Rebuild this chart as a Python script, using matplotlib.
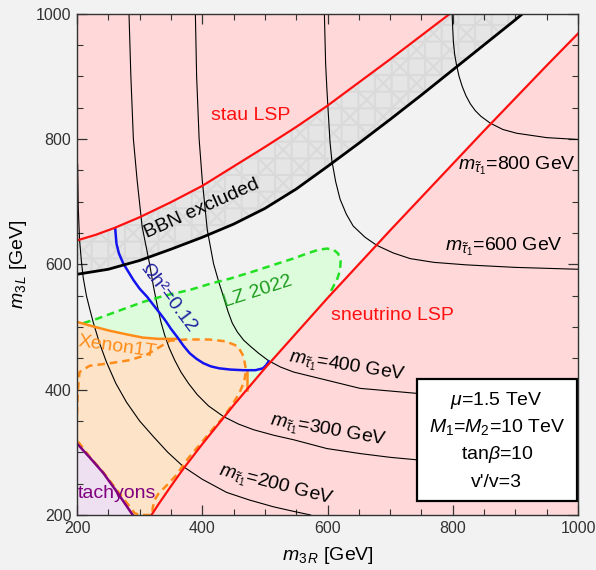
import numpy as np
import matplotlib
matplotlib.use("Agg")
import matplotlib.pyplot as plt
from matplotlib.patches import Rectangle

# =========================
# DATA (x = m3R, y = m3L in GeV)
# =========================
# sneutrino LSP boundary (red, right)
sneu_x = [319, 330, 350, 370, 400, 450, 500, 550, 600, 650, 700, 750, 800, 850, 900, 950, 1000]
sneu_y = [200, 217, 246, 274, 313, 375, 434, 490, 546, 600, 654, 707, 760, 813, 865, 917, 968]

# stau LSP boundary (red, top)
stau_x = [200, 230, 260, 300, 350, 400, 450, 500, 550, 600, 650, 700, 750, 796]
stau_y = [638, 647, 658, 675, 699, 725, 756, 787, 819, 853, 890, 927, 965, 1000]

# BBN excluded lower edge (black)
bbn_x = [200, 250, 300, 350, 400, 450, 500, 550, 600, 650, 700, 750, 800, 850, 900, 912]
bbn_y = [584, 592, 606, 624, 643, 664, 689, 720, 756, 793, 831, 870, 910, 950, 990, 1000]

# relic density Omega h^2 = 0.12 (blue)
relic_x = [261, 263, 267, 274, 282, 290, 300, 312, 322, 333, 342, 350, 360, 370, 380, 391,
           402, 414, 427, 445, 465, 485, 497, 502, 506]
relic_y = [657, 633, 617, 601, 588, 575, 561, 548, 535, 521, 509, 497, 484, 470, 458, 449,
           442, 437, 434, 432, 431, 431, 434, 439, 445]

# LZ 2022 (green dashed)
lz_x = [210, 232, 270, 306, 340, 380, 413, 444, 480, 520, 545, 567, 585, 599, 610, 617, 621,
        620, 615, 609, 602]
lz_y = [506, 513, 527, 540, 550, 559, 569, 577, 588, 601, 609, 617, 623, 625, 623, 617, 605,
        590, 575, 564, 550]

# Xenon1T solid edge + dashed contour (orange)
xen_x = [200, 225, 252, 280, 305, 330, 358]
xen_y = [508, 501, 494, 488, 483, 481, 481]
xen_edge_x = [471, 471]
xen_edge_y = [431, 400]
xend_x = [200, 201, 202, 204, 220, 252, 284, 310, 332, 348, 374, 411, 438, 457, 466, 470, 467,
          459, 446, 433, 420, 400, 378, 358, 345, 338, 330, 324, 321, 320, 300, 292, 286, 265,
          242, 221, 201]
xend_y = [360, 390, 405, 428, 438, 442, 447, 455, 468, 478, 480, 480, 477, 469, 453, 431, 413,
          394, 373, 355, 341, 317, 291, 263, 249, 242, 234, 224, 212, 200, 200, 203, 211, 238,
          268, 292, 318]

# tachyon boundary (purple)
tach_x = [200, 221, 242, 265, 289]
tach_y = [314, 291, 267, 235, 200]

# stau mass contours
m200_x = [201, 202, 204, 207, 210, 215, 220, 226, 236, 247, 262, 279, 300, 322, 345, 370, 400,
          439, 475, 514, 545, 573]
m200_y = [760, 690, 640, 605, 578, 550, 530, 507, 474, 444, 410, 380, 350, 325, 300, 277, 257,
          236, 224, 213, 206, 200]
m300_x = [283, 286, 290, 296, 304, 310, 316, 322, 328, 334, 340, 347, 356, 366, 378, 392, 410,
          434, 458, 482, 515, 546, 599, 652, 700, 743, 800, 900, 1000]
m300_y = [1000, 900, 800, 734, 660, 630, 600, 565, 535, 508, 487, 467, 447, 428, 410, 392, 374,
          357, 345, 336, 327, 320, 306, 298, 292, 288, 286, 284, 283]
m400_x = [389, 391, 395, 400, 408, 418, 426, 434, 441, 448, 456, 466, 477, 490, 506, 525, 546,
          599, 652, 743, 800, 900, 1000]
m400_y = [1000, 900, 800, 734, 655, 601, 573, 548, 525, 506, 492, 479, 469, 458, 446, 436, 428,
          415, 402, 394, 391, 389, 388]
m600_x = [595, 596, 597, 599, 601, 604, 607, 613, 620, 630, 641, 660, 679, 705, 732, 770, 822,
          900, 1000]
m600_y = [1000, 960, 920, 880, 845, 795, 765, 732, 704, 680, 661, 643, 630, 618, 609, 603, 599,
          595, 592]
m800_x = [799, 800, 801, 803, 806, 810, 815, 821, 828, 836, 845, 860, 880, 902, 950, 1000]
m800_y = [1000, 975, 955, 935, 918, 900, 884, 869, 856, 845, 836, 825, 815, 809, 802, 799]

mass_labels = ["200", "300", "400", "600", "800"]
box_lines = [r"$\mu$=1.5 TeV", r"$M_1$=$M_2$=10 TeV", r"tan$\beta$=10", "v'/v=3"]
ticks = [200, 400, 600, 800, 1000]

# =========================
# STYLE
# =========================
BG = "#f2f2f2"
PINK = "#ffd9d9"
RED = "#ff1010"
ORANGE = "#ff8c1a"

plt.rcParams["font.family"] = ["Liberation Sans", "DejaVu Sans"]
plt.rcParams["mathtext.fontset"] = "custom"
plt.rcParams["mathtext.rm"] = "Liberation Sans"
plt.rcParams["mathtext.it"] = "Liberation Sans:italic"
plt.rcParams["mathtext.bf"] = "Liberation Sans:bold"
plt.rcParams["hatch.linewidth"] = 1.5

fig = plt.figure(figsize=(5.96, 5.70), dpi=100, facecolor=BG)
ax = fig.add_axes([0.1292, 0.0965, 0.8406, 0.8798], facecolor=BG)

# ---- filled regions ----
# LZ 2022 sensitivity region
ax.fill(lz_x + [lz_x[-1], 200, 200], lz_y + [200, 200, lz_y[0]], color="#dcfcdc", lw=0, zorder=1)

# Xenon1T region: solid edge, then top of dashed contour, down to the sneutrino line
top_idx = list(range(10, 16))
xfill_x = xen_x + [xend_x[i] for i in top_idx] + xen_edge_x + [xen_edge_x[-1], 200]
xfill_y = xen_y + [xend_y[i] for i in top_idx] + xen_edge_y + [200, 200]
ax.fill(xfill_x, xfill_y, color="#fde4c8", lw=0, zorder=1.1)

# tachyons
ax.fill(tach_x + [200], tach_y + [200], color="#eee0f0", lw=0, zorder=1.2)

# sneutrino LSP & stau LSP
ax.fill(sneu_x + [1000], sneu_y + [200], color=PINK, lw=0, zorder=1.3)
ax.fill(stau_x + [200], stau_y + [1000], color=PINK, lw=0, zorder=1.3)

# BBN excluded band (hatched)
ax.fill(stau_x + bbn_x[::-1], stau_y + bbn_y[::-1], facecolor="#e5e5e5",
        edgecolor="#dadada", hatch="x+", lw=0, zorder=1.4)

# ---- stau mass contours ----
for mx, my in [(m200_x, m200_y), (m300_x, m300_y), (m400_x, m400_y),
               (m600_x, m600_y), (m800_x, m800_y)]:
    ax.plot(mx, my, color="black", lw=0.8, zorder=2)

# ---- boundaries ----
dash = (0, (3, 2))
ax.plot(xend_x, xend_y, color=ORANGE, lw=1.8, ls=dash, zorder=3)
ax.plot(lz_x, lz_y, color="#22e022", lw=1.8, ls=dash, zorder=3)
ax.plot(xen_x, xen_y, color=ORANGE, lw=1.8, zorder=3)
ax.plot(xen_edge_x, xen_edge_y, color=ORANGE, lw=1.8, zorder=3)
ax.plot(tach_x, tach_y, color="#800080", lw=1.8, zorder=3.5)
ax.plot(relic_x, relic_y, color="#1414f0", lw=1.8, zorder=4)
ax.plot(bbn_x, bbn_y, color="black", lw=2.0, zorder=4)
ax.plot(sneu_x, sneu_y, color=RED, lw=1.6, zorder=4.5)
ax.plot(stau_x, stau_y, color=RED, lw=1.6, zorder=4.5)

# ---- labels ----
fs = 14
ax.text(478, 837, "stau LSP", color=RED, fontsize=fs, ha="center", va="center", zorder=5)
ax.text(704, 518, "sneutrino LSP", color=RED, fontsize=fs, ha="center", va="center", zorder=5)
ax.text(399, 689, "BBN excluded", color="black", fontsize=fs, rotation=24,
        ha="center", va="center", rotation_mode="anchor", zorder=5)
ax.text(488, 556, "LZ 2022", color="#1c9c1c", fontsize=fs, rotation=18,
        ha="center", va="center", rotation_mode="anchor", zorder=5)
ax.text(265, 468, "Xenon1T", color=ORANGE, fontsize=fs, rotation=-8,
        ha="center", va="center", rotation_mode="anchor", zorder=5)
ax.text(345, 546, "Ωh²=0.12", color="#2020a0", fontsize=fs, rotation=-53,
        ha="center", va="center", rotation_mode="anchor", zorder=5)
ax.text(263, 234, "tachyons", color="#800080", fontsize=fs, ha="center", va="center", zorder=5)

label_pos = [(517, 246, -14.5), (601, 333, -10), (631, 435, -9), (881, 627, 0), (903, 757, 0)]
for lab, (lx, ly, rot) in zip(mass_labels, label_pos):
    ax.text(lx, ly, r"$m_{\tilde{\tau}_1}$=" + lab + " GeV", fontsize=fs, rotation=rot,
            ha="center", va="center", rotation_mode="anchor", zorder=5)

# ---- parameter box ----
ax.add_patch(Rectangle((0.679, 0.028), 0.319, 0.243, transform=ax.transAxes,
                       facecolor="white", edgecolor="black", lw=1.6, zorder=6))
for i, line in enumerate(box_lines):
    ax.text(0.838, 0.229 - i * 0.0545, line, transform=ax.transAxes, fontsize=fs,
            ha="center", va="center", zorder=7)

# ---- axes ----
ax.set_xlim(200, 1000)
ax.set_ylim(200, 1000)
ax.set_xticks(ticks)
ax.set_yticks(ticks)
ax.set_xticks(np.arange(200, 1001, 50), minor=True)
ax.set_yticks(np.arange(200, 1001, 50), minor=True)
ax.tick_params(which="both", direction="in", top=True, right=True, colors="#333333",
               labelsize=11.5, pad=4)
ax.tick_params(which="major", length=7, width=0.9)
ax.tick_params(which="minor", length=4, width=0.8)
for s in ax.spines.values():
    s.set_color("#333333")
    s.set_linewidth(1.0)
    s.set_zorder(8)

ax.set_xlabel(r"$m_{3\,R}$ [GeV]", fontsize=14, labelpad=7)
ax.set_ylabel(r"$m_{3\,L}$ [GeV]", fontsize=14, labelpad=5)

fig.savefig("out.png", dpi=100, facecolor=BG)
